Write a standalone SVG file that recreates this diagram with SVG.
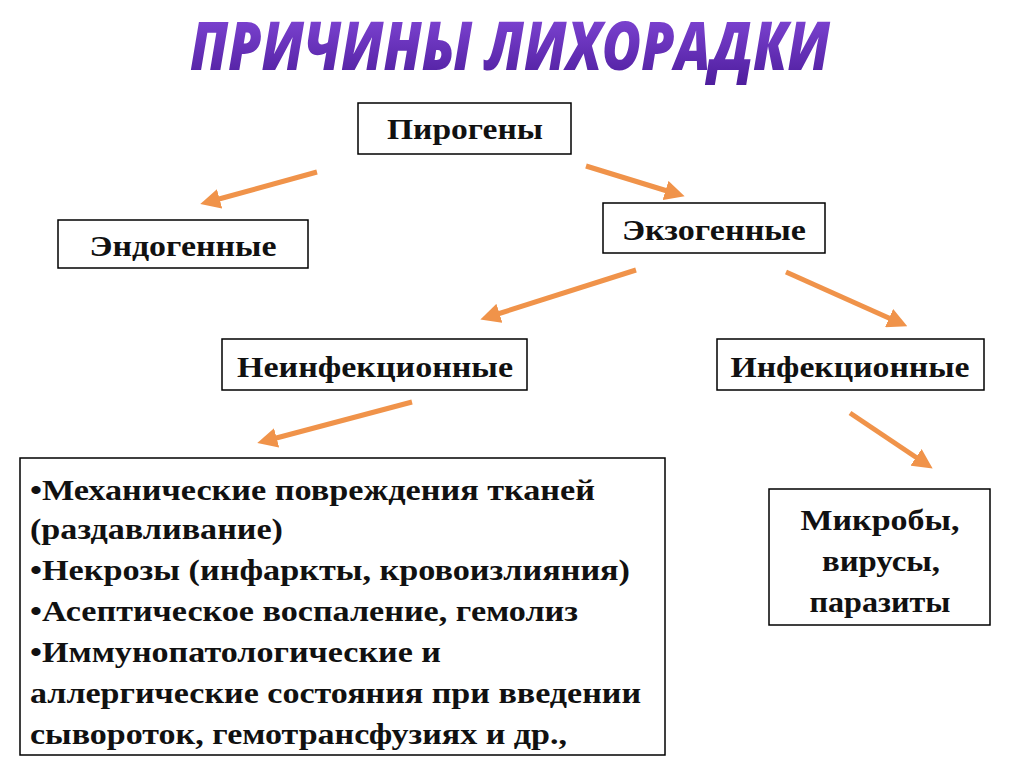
<svg xmlns="http://www.w3.org/2000/svg" width="1024" height="768" viewBox="0 0 1024 768">
<defs>
<style>
.box{fill:#fff;stroke:#000;stroke-width:1.5}
.t{font-family:"Liberation Serif",serif;font-weight:bold;font-size:30px;fill:#111}
.c{text-anchor:middle}
.ar{stroke:#f0934a;stroke-width:5;marker-end:url(#h)}
.title{font-family:"Open Sans",sans-serif;font-weight:800;font-style:italic;font-size:68px;text-anchor:middle}
</style>
<marker id="h" viewBox="0 0 10 10" refX="6" refY="5" markerWidth="4" markerHeight="4" orient="auto"><path d="M0,0L10,5L0,10z" fill="#f0934a"/></marker>
<linearGradient id="g" x1="0" y1="0" x2="0" y2="1"><stop offset="0" stop-color="#8a4ee0"/><stop offset="1" stop-color="#4a1a99"/></linearGradient>
</defs>
<rect width="1024" height="768" fill="#fff"/>
<g id="title">
<text class="title" x="510" y="70" style="fill:url(#g)" textLength="640" lengthAdjust="spacingAndGlyphs">ПРИЧИНЫ ЛИХОРАДКИ</text>
</g>
<g id="connectors">
<line class="ar" x1="317" y1="172" x2="208" y2="202"/>
<line class="ar" x1="586" y1="166" x2="677" y2="194"/>
<line class="ar" x1="636" y1="270" x2="488" y2="317"/>
<line class="ar" x1="786" y1="272" x2="900" y2="323"/>
<line class="ar" x1="412" y1="402" x2="265" y2="441"/>
<line class="ar" x1="850" y1="413" x2="926" y2="464"/>
</g>
<g id="pyrogens"><rect class="box" x="358" y="103" width="213" height="51"/><text class="t c" x="465" y="139" textLength="156" lengthAdjust="spacingAndGlyphs">Пирогены</text></g>
<g id="endo"><rect class="box" x="58" y="220" width="250" height="48"/><text class="t c" x="183" y="256" textLength="187" lengthAdjust="spacingAndGlyphs">Эндогенные</text></g>
<g id="exo"><rect class="box" x="603" y="203" width="222" height="50"/><text class="t c" x="714" y="240" textLength="184" lengthAdjust="spacingAndGlyphs">Экзогенные</text></g>
<g id="noninf"><rect class="box" x="222" y="339" width="305" height="51"/><text class="t c" x="375" y="377" textLength="276" lengthAdjust="spacingAndGlyphs">Неинфекционные</text></g>
<g id="inf"><rect class="box" x="717" y="339" width="267" height="51"/><text class="t c" x="850" y="377" textLength="239" lengthAdjust="spacingAndGlyphs">Инфекционные</text></g>
<g id="list"><rect class="box" x="20" y="458" width="645" height="297"/>
<text class="t" x="30" y="500" textLength="565" lengthAdjust="spacingAndGlyphs">•Механические повреждения тканей</text>
<text class="t" x="30" y="539" textLength="253" lengthAdjust="spacingAndGlyphs">(раздавливание)</text>
<text class="t" x="30" y="580" textLength="600" lengthAdjust="spacingAndGlyphs">•Некрозы (инфаркты, кровоизлияния)</text>
<text class="t" x="30" y="621" textLength="548" lengthAdjust="spacingAndGlyphs">•Асептическое воспаление, гемолиз</text>
<text class="t" x="30" y="662" textLength="411" lengthAdjust="spacingAndGlyphs">•Иммунопатологические и</text>
<text class="t" x="30" y="703" textLength="611" lengthAdjust="spacingAndGlyphs">аллергические состояния при введении</text>
<text class="t" x="30" y="744" textLength="537" lengthAdjust="spacingAndGlyphs">сывороток, гемотрансфузиях и др.,</text>
</g>
<g id="microbes"><rect class="box" x="769" y="489" width="221" height="136"/>
<text class="t c" x="880" y="530" textLength="159" lengthAdjust="spacingAndGlyphs">Микробы,</text>
<text class="t c" x="881" y="571" textLength="118" lengthAdjust="spacingAndGlyphs">вирусы,</text>
<text class="t c" x="880" y="612" textLength="141" lengthAdjust="spacingAndGlyphs">паразиты</text>
</g>
</svg>
